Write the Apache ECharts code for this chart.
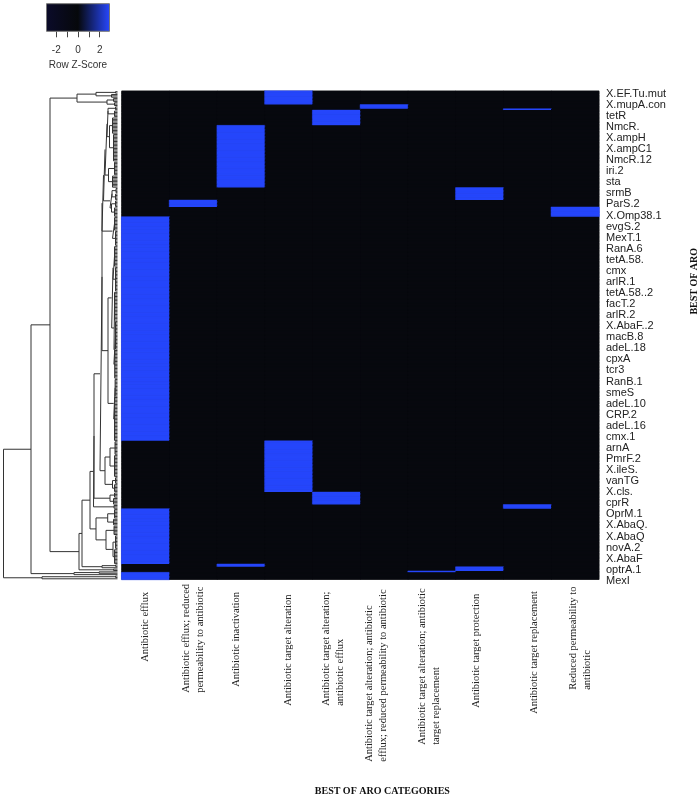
<!DOCTYPE html>
<html lang="en">

<head>
    <meta charset="UTF-8">
    <title>BEST OF ARO</title>
    <script src="https://cdn.jsdelivr.net/npm/echarts@6/dist/echarts.min.js"></script>
    <style>
        html, body { margin: 0; padding: 0; background: #fff; }
        #main { width: 699px; height: 796px; }
    </style>
</head>

<body>
    <div id="main"></div>
    <script>
        // heatmap columns
        var categories = [
            'Antibiotic efflux',
            'Antibiotic efflux; reduced\npermeability to antibiotic',
            'Antibiotic inactivation',
            'Antibiotic target alteration',
            'Antibiotic target alteration;\nantibiotic efflux',
            'Antibiotic target alteration; antibiotic\nefflux; reduced permeability to antibiotic',
            'Antibiotic target alteration; antibiotic\ntarget replacement',
            'Antibiotic target protection',
            'Antibiotic target replacement',
            'Reduced permeability to\nantibiotic'
        ];

        // only every 8th row carries a label
        var rowLabels = ['X.EF.Tu.mut', 'X.mupA.con', 'tetR', 'NmcR.', 'X.ampH', 'X.ampC1', 'NmcR.12', 'iri.2', 'sta',
            'srmB', 'ParS.2', 'X.Omp38.1', 'evgS.2', 'MexT.1', 'RanA.6', 'tetA.58.', 'cmx', 'arlR.1', 'tetA.58..2',
            'facT.2', 'arlR.2', 'X.AbaF..2', 'macB.8', 'adeL.18', 'cpxA', 'tcr3', 'RanB.1', 'smeS', 'adeL.10', 'CRP.2',
            'adeL.16', 'cmx.1', 'arnA', 'PmrF.2', 'X.ileS.', 'vanTG', 'X.cls.', 'cprR', 'OprM.1', 'X.AbaQ.', 'X.AbaQ',
            'novA.2', 'X.AbaF', 'optrA.1', 'MexI'];
        var rowCount = 353;

        // rows from top to bottom, as runs: which column is high, and for how many rows
        var runColumn = [3, 5, 8, 4, 2, 7, 1, 9, 0, 3, 4, 8, 0, 2, 7, 6, 0];
        var runLength = [10, 3, 1, 11, 45, 9, 5, 7, 162, 37, 9, 3, 40, 2, 3, 1, 5];
        var highZ = 2.85;
        var lowZ = -0.32;

        // colour key
        var keyMin = -2.9;
        var keyMax = 2.9;
        var keyTicks = [-2, -1, 0, 1, 2];
        var keyLabels = [-2, 0, 2];
        var keyColors = ['#0b0b2a', '#06080b', '#2748ff'];

        // row dendrogram. node = [height, child, child], clade = [tip height, first row, last row]
        var topA = [21.5, [2, 0, 1], [6, 2, 4]];
        var topB = [10.5, [4, 5, 7], [3, 8, 10]];
        var topNode = [40.5, topA, topB];

        var s1a1 = [9.5, [2, 11, 13], [3, 14, 18]];
        var s1a2 = [8, [5, 19, 30], [4, 31, 50]];
        var s1b = [9, [3, 51, 60], [5, 61, 69]];
        var s1 = [12.5, [10.5, s1a1, s1a2], s1b];
        var s2 = [7.5, [5.5, [1.5, 70, 73], [2, 74, 78]], [6, [2, 79, 83], [3, 84, 90]]];
        var n5 = [15.5, [14, s1, s2], [5, [3, 91, 100], [2, 101, 111]]];

        var u1 = [4.5, [3, 112, 126], [2, 127, 144]];
        var u2 = [3.5, [3, 145, 165], [3.6, [2, 166, 186], [2.8, 187, 207]]];
        var v1 = [3.8, [2.4, 208, 220], [3, 221, 252]];
        var n6 = [9.5, [5.8, u1, u2], v1];

        var n4 = [12.5, [7.5, [2.5, 253, 262], [3, 263, 278]], [5, [2, 279, 283], [3, 284, 289]]];
        var j1 = [7.5, [3, 290, 293], [4, 294, 298]];
        var n0 = [24, [23.5, [17.5, [15.5, n5, n6], n4], j1], [3.5, 299, 301]];

        var l1 = [9.8, [3, 302, 308], [4, 309, 313]];
        var l2 = [11.5, [3.5, 314, 320], [4.5, [2, 321, 330], [3, 331, 341]]];
        var g1 = [15.5, [2, 342, 343], [1.5, 344, 344]];
        var d1 = [38.5, [35.5, [27.5, n0, [21.5, l1, l2]], g1], [4, 345, 346]];

        var b1 = [67.5, topNode, d1];
        var p1 = [43.5, [18.5, 347, 348], [0, 349, 349]];
        var mexI = [75.5, [2, 350, 351], [0, 352, 352]];
        var treeRoot = [114, [86.5, b1, p1], mexI];

        // where the rotated column labels sit relative to the column centre and the heatmap bottom
        var labelShift = [-0.6, 0.4, -4.3, -1, -3.5, -8, -2.3, -3.3, 7.3, 5];
        var labelDrop = [83, 114, 108, 127, 127, 183, 166, 129, 135, 111];

        var heatData = [];
        var row = 0;
        runColumn.forEach(function (col, r) {
            for (var n = 0; n < runLength[r]; n++, row++) {
                for (var c = 0; c < categories.length; c++) {
                    if (c === col) {
                        // thin border closes the seams between the fractional rows
                        heatData.push({ value: [c, row, highZ], itemStyle: { borderWidth: 0.5, borderColor: '#2647fb' } });
                    } else {
                        heatData.push([c, row, lowZ]);
                    }
                }
            }
        });

        var rowNames = [];
        for (var i = 0; i < rowCount; i++) {
            rowNames.push(i % 8 === 0 ? rowLabels[i / 8] : '');
        }

        // walk the tree into line pieces, ['-', '-'] breaks the line
        var segments = [];
        function walk(node) {
            var h = node[0];
            if (typeof node[1] === 'number') {
                var y0 = node[1] + 0.5, y1 = node[2] + 0.5;
                if (y0 === y1) return { h: 0, y: y0 };
                for (var y = y0; y <= y1; y++) {
                    segments.push([0, y], [h, y], ['-', '-']);
                }
                segments.push([h, y0], [h, y1], ['-', '-']);
                return { h: h, y: (y0 + y1) / 2 };
            }
            var a = walk(node[1]);
            var c = walk(node[2]);
            segments.push([a.h, a.y], [h, a.y], [h, c.y], [c.h, c.y], ['-', '-']);
            return { h: h, y: (a.y + c.y) / 2 };
        }
        walk(treeRoot);

        var chart = echarts.init(document.getElementById('main'));
        chart.setOption({
            animation: false,
            backgroundColor: '#fff',
            textStyle: { fontFamily: 'Liberation Sans' },
            grid: [
                { left: 121.7, top: 91, width: 477.3, height: 488.5, outerBoundsMode: 'none', show: true, borderColor: '#777', borderWidth: 1, backgroundColor: '#06080b' },
                { left: 3.5, top: 91, width: 114, height: 488.5, outerBoundsMode: 'none' },
                { left: 46.5, top: 3.7, width: 63, height: 27.6, outerBoundsMode: 'none' }
            ],
            xAxis: [
                {
                    gridIndex: 0,
                    type: 'category',
                    data: categories,
                    axisLine: { show: false },
                    axisTick: { show: false },
                    axisLabel: { show: false },
                    name: 'BEST OF ARO CATEGORIES',
                    nameLocation: 'middle',
                    nameGap: 207,
                    nameTextStyle: { fontFamily: 'Liberation Serif', fontWeight: 'bold', fontSize: 10, color: '#111', padding: [0, 0, 0, 44] }
                },
                {
                    gridIndex: 1,
                    type: 'value',
                    min: 0,
                    max: 114,
                    inverse: true,
                    show: false
                },
                {
                    gridIndex: 2,
                    type: 'value',
                    min: keyMin,
                    max: keyMax,
                    axisLine: { show: false },
                    splitLine: { show: false },
                    axisTick: { show: true, length: 6, customValues: keyTicks, lineStyle: { color: '#444' } },
                    axisLabel: { customValues: keyLabels, fontSize: 10, color: '#333', margin: 14 },
                    name: 'Row Z-Score',
                    nameLocation: 'middle',
                    nameGap: 29,
                    nameTextStyle: { fontSize: 10, color: '#333' }
                }
            ],
            yAxis: [
                {
                    gridIndex: 0,
                    type: 'category',
                    data: rowNames,
                    inverse: true,
                    position: 'right',
                    axisLine: { show: false },
                    axisTick: { show: false },
                    axisLabel: {
                        interval: 7,
                        margin: 7,
                        formatter: function (value) { return '{row|' + value + '}'; },
                        rich: { row: { fontSize: 11, color: '#222', padding: [4, 0, 0, 0] } }
                    },
                    name: 'BEST OF ARO',
                    nameLocation: 'middle',
                    nameRotate: 90,
                    nameGap: 90,
                    nameTextStyle: { fontFamily: 'Liberation Serif', fontWeight: 'bold', fontSize: 10, color: '#111', padding: [0, 0, 0, 108] }
                },
                {
                    gridIndex: 1,
                    type: 'value',
                    min: 0,
                    max: rowCount,
                    inverse: true,
                    show: false
                },
                {
                    gridIndex: 2,
                    type: 'value',
                    min: 0,
                    max: 1,
                    show: false
                }
            ],
            visualMap: {
                show: false,
                seriesIndex: 0,
                min: keyMin,
                max: keyMax,
                inRange: { color: keyColors }
            },
            series: [
                {
                    type: 'heatmap',
                    xAxisIndex: 0,
                    yAxisIndex: 0,
                    data: heatData,
                    progressive: 0,
                    itemStyle: { borderWidth: 0 }
                },
                {
                    type: 'line',
                    xAxisIndex: 1,
                    yAxisIndex: 1,
                    data: segments,
                    showSymbol: false,
                    symbol: 'none',
                    clip: false,
                    silent: true,
                    lineStyle: { color: '#333', width: 1 }
                },
                {
                    // colour key bar
                    type: 'custom',
                    xAxisIndex: 2,
                    yAxisIndex: 2,
                    data: [[keyMin, 1, keyMax, 0]],
                    silent: true,
                    clip: false,
                    renderItem: function (params, api) {
                        var from = api.coord([api.value(0), api.value(1)]);
                        var to = api.coord([api.value(2), api.value(3)]);
                        return {
                            type: 'rect',
                            shape: { x: from[0], y: from[1], width: to[0] - from[0], height: to[1] - from[1] },
                            style: {
                                fill: new echarts.graphic.LinearGradient(0, 0, 1, 0, [
                                    { offset: 0, color: keyColors[0] },
                                    { offset: 0.5, color: keyColors[1] },
                                    { offset: 1, color: keyColors[2] }
                                ]),
                                stroke: '#777',
                                lineWidth: 1
                            }
                        };
                    }
                },
                {
                    // rotated column labels, lines start at the same baseline end like in the original
                    type: 'custom',
                    xAxisIndex: 0,
                    yAxisIndex: 0,
                    data: categories.map(function (name, idx) { return [idx, rowCount - 1]; }),
                    silent: true,
                    clip: false,
                    renderItem: function (params, api) {
                        var idx = params.dataIndex;
                        var pos = api.coord([api.value(0), api.value(1)]);
                        return {
                            type: 'text',
                            x: pos[0] + labelShift[idx],
                            y: pos[1] + labelDrop[idx],
                            rotation: Math.PI / 2,
                            style: {
                                text: categories[idx],
                                font: '10.5px "Liberation Serif"',
                                fill: '#222',
                                align: 'left',
                                verticalAlign: 'middle',
                                lineHeight: 14
                            }
                        };
                    }
                }
            ]
        });
    </script>
</body>

</html>
